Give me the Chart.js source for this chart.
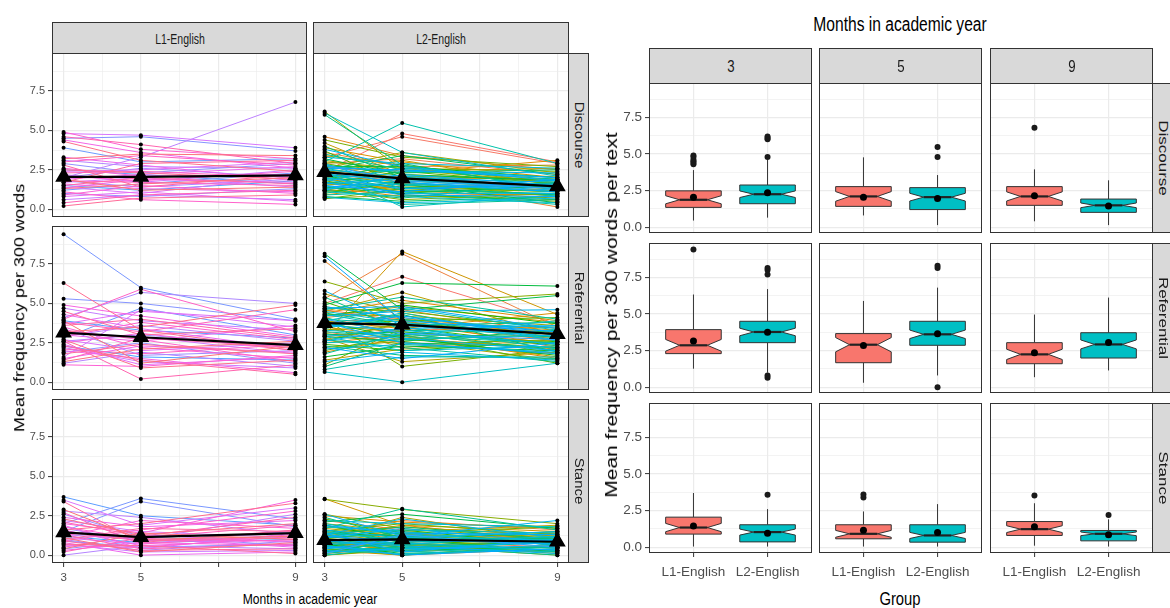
<!DOCTYPE html>
<html>
<head>
<meta charset="utf-8">
<script src="https://cdn.jsdelivr.net/npm/chart.js@4.4.0/dist/chart.umd.min.js"></script>
<style>
  body { margin: 0; background: #fff; width: 1170px; height: 608px; position: relative; overflow: hidden; }
  .panel { position: absolute; }
  .strip { position: absolute; background: #d9d9d9; border: 1px solid #333; box-sizing: border-box; }
  .txt { position: absolute; white-space: nowrap; font-family: "Liberation Sans", Arial, sans-serif; line-height: 1; }
</style>
</head>
<body>
<script>
const months = [3, 5, 9];
const groups = ['L1-English', 'L2-English'];
const categories = ['Discourse', 'Referential', 'Stance'];
const freqTicks = [0, 1.25, 2.5, 3.75, 5, 6.25, 7.5, 8.75];
const monthTicks = [3, 4, 5, 6, 7, 8, 9];
const monthLabels = ['3', '5', '9'];

// learner trajectories, values at months 3, 5, 9
const l1Discourse = [
  [1.5, 1.2, 1.8], [2.5, 2.2, 1.6], [3.9, 3.0, 3.2], [1.2, 1.6, 2.3], [4.5, 4.6, 3.7],
  [2.9, 2.3, 2.9], [1.0, 0.8, 1.3], [2.0, 2.6, 2.0], [1.8, 1.4, 1.9], [3.1, 2.7, 2.6],
  [2.0, 3.3, 6.8], [0.6, 0.9, 0.6], [2.2, 1.7, 2.5], [1.7, 2.0, 1.4], [4.8, 4.7, 3.9],
  [1.4, 1.0, 2.1], [2.4, 2.5, 3.0], [0.8, 1.1, 0.5], [1.9, 2.2, 2.7], [3.3, 2.8, 1.8],
  [1.6, 1.3, 1.1], [4.4, 3.6, 2.6], [1.35, 1.9, 1.7], [2.6, 2.1, 2.2], [0.9, 1.5, 1.0],
  [2.1, 1.8, 2.4], [4.9, 3.8, 3.2], [1.1, 0.6, 0.3], [3.0, 3.4, 2.8], [1.8, 1.7, 1.5],
  [2.3, 2.4, 2.0], [0.4, 0.9, 1.2], [4.6, 4.1, 2.9], [1.5, 2.0, 1.6], [2.8, 1.4, 2.2],
  [1.7, 2.9, 3.1], [0.2, 0.7, 0.9], [2.5, 2.3, 1.9], [4.3, 3.1, 2.4], [1.3, 1.6, 2.0],
  [3.2, 3.5, 3.4], [1.9, 1.2, 1.4]
];
const l1Referential = [
  [2.3, 1.6, 1.4], [3.9, 3.3, 2.8], [2.8, 4.7, 3.0], [9.4, 6.0, 4.0], [5.3, 5.0, 3.9],
  [1.9, 2.5, 1.2], [3.4, 1.7, 2.0], [2.6, 3.0, 2.3], [4.1, 5.7, 5.0], [1.2, 1.9, 1.0],
  [2.9, 3.6, 2.6], [4.7, 3.9, 3.3], [2.2, 1.3, 0.9], [3.1, 2.9, 1.8], [1.6, 4.6, 3.5],
  [2.7, 2.0, 2.5], [3.7, 4.5, 3.9], [2.4, 1.1, 1.6], [4.3, 3.4, 2.1], [1.5, 2.3, 1.9],
  [3.0, 2.6, 3.6], [2.0, 1.5, 0.6], [4.9, 4.2, 2.9], [2.5, 3.1, 2.0], [3.5, 2.2, 1.5],
  [1.1, 1.0, 1.7], [2.9, 3.8, 2.7], [3.3, 2.7, 1.3], [4.0, 5.9, 3.2], [2.1, 1.8, 2.4],
  [3.8, 3.2, 4.6], [1.4, 2.8, 2.2], [2.6, 0.2, 1.1], [3.6, 4.0, 2.8], [2.3, 1.4, 0.5],
  [4.5, 3.0, 3.4], [1.8, 2.4, 1.8], [6.3, 3.3, 2.0], [2.7, 0.9, 1.4], [3.2, 3.5, 4.9],
  [1.3, 2.1, 2.6], [3.9, 1.2, 2.3]
];
const l1Stance = [
  [1.2, 0.8, 1.0], [3.7, 2.5, 1.9], [0.9, 0.5, 0.7], [2.0, 3.6, 2.3], [1.5, 3.4, 1.8],
  [0.4, 0.9, 1.2], [2.6, 1.2, 0.6], [1.0, 0.3, 0.9], [1.7, 0.9, 1.5], [0.0, 0.6, 0.4],
  [2.8, 2.4, 1.3], [1.3, 1.0, 2.6], [0.7, 0.2, 0.3], [2.2, 1.5, 1.1], [1.1, 0.7, 1.6],
  [3.5, 1.9, 3.0], [0.5, 1.3, 0.8], [1.9, 0.4, 1.4], [1.4, 1.1, 0.5], [0.8, 0.0, 0.2],
  [2.4, 1.8, 2.2], [1.6, 0.6, 1.0], [0.3, 0.8, 0.6], [2.0, 1.4, 3.5], [1.2, 2.2, 1.7],
  [0.6, 0.5, 1.2], [1.8, 1.0, 0.9], [0.9, 1.6, 2.8], [2.7, 0.7, 1.3], [1.3, 0.4, 0.7],
  [0.2, 1.1, 1.9], [1.5, 0.9, 1.1], [2.1, 1.2, 2.4], [0.9, 0.3, 0.4], [1.0, 1.7, 1.5],
  [3.4, 0.8, 1.6], [0.7, 0.6, 0.1], [1.6, 2.0, 3.3], [2.3, 1.3, 2.0], [1.1, 0.2, 0.8],
  [0.4, 1.4, 1.0], [2.9, 1.0, 1.2]
];
const l2Discourse = [
  [2.4, 4.8, 3.0], [3.3, 4.6, 2.9], [1.8, 2.1, 1.4], [2.9, 3.2, 2.2], [1.2, 1.0, 0.9],
  [3.6, 2.7, 2.8], [2.2, 1.8, 0.14], [4.6, 3.4, 2.5], [1.6, 1.3, 1.7], [2.7, 2.3, 3.1],
  [0.9, 1.5, 1.2], [3.9, 3.0, 2.0], [2.0, 2.6, 1.6], [1.4, 0.8, 1.0], [2.5, 2.0, 1.9],
  [3.1, 2.4, 2.6], [1.7, 1.2, 0.7], [2.3, 3.1, 1.5], [4.2, 2.2, 1.8], [1.1, 1.6, 1.3],
  [2.8, 1.9, 2.1], [1.9, 1.4, 1.1], [3.4, 2.8, 1.6], [0.7, 0.9, 0.5], [2.6, 3.6, 2.3],
  [1.5, 2.0, 1.4], [6.2, 2.5, 1.7], [2.1, 1.7, 0.8], [3.0, 2.6, 2.4], [1.3, 0.6, 1.0],
  [2.4, 1.9, 1.5], [4.4, 3.3, 2.7], [1.8, 1.1, 1.2], [0.65, 1.3, 0.9], [2.9, 2.1, 1.9],
  [1.6, 2.4, 1.6], [3.7, 1.5, 1.1], [2.2, 0.9, 0.6], [1.0, 1.8, 1.3], [2.7, 2.7, 2.0],
  [1.4, 1.0, 1.5], [3.2, 2.2, 1.8], [2.0, 1.6, 0.4], [0.8, 0.5, 0.8], [2.5, 3.4, 2.2],
  [1.9, 2.9, 1.2], [4.0, 2.0, 1.4], [1.2, 0.7, 1.7], [2.8, 2.3, 2.5], [1.7, 1.4, 0.9],
  [6.0, 2.8, 1.3], [2.3, 1.2, 1.0], [3.5, 2.5, 1.9], [1.5, 0.3, 0.6], [2.6, 1.8, 1.6],
  [0.9, 1.1, 0.3], [3.0, 5.47, 2.9], [2.1, 2.0, 1.7], [1.3, 1.6, 1.1], [2.4, 0.14, 0.9],
  [1.8, 2.6, 2.0], [6.1, 3.6, 2.1], [2.9, 1.3, 1.5], [1.1, 0.8, 0.4], [2.2, 1.5, 1.8],
  [3.3, 2.9, 2.6], [1.6, 1.9, 1.3], [0.75, 0.4, 0.7], [2.5, 2.1, 1.4], [1.9, 1.0, 1.0],
  [2.7, 2.4, 2.3], [1.4, 1.7, 1.2], [3.8, 2.7, 1.8], [2.0, 1.3, 1.6], [1.2, 2.2, 1.5],
  [2.3, 1.7, 1.1], [1.7, 0.9, 0.8], [2.6, 2.5, 2.0], [1.5, 1.1, 1.9], [2.8, 1.8, 1.3]
];
const l2Referential = [
  [5.0, 6.7, 3.7], [3.8, 4.1, 2.6], [2.9, 3.3, 3.5], [4.6, 3.9, 2.2], [3.2, 2.5, 1.8],
  [5.3, 8.15, 3.5], [4.1, 4.6, 3.1], [7.7, 3.9, 2.6], [2.5, 3.0, 1.5], [3.6, 2.2, 2.9],
  [4.4, 5.2, 3.9], [1.9, 2.8, 2.1], [3.9, 3.4, 4.4], [2.7, 3.7, 2.4], [4.8, 4.0, 3.3],
  [3.0, 8.3, 4.3], [3.5, 2.9, 1.6], [4.2, 4.8, 3.8], [1.4, 2.1, 2.7], [3.7, 3.1, 2.0],
  [4.5, 5.7, 3.0], [2.8, 1.3, 1.9], [3.3, 3.6, 3.2], [5.6, 4.4, 2.8], [2.2, 2.6, 1.4],
  [3.9, 3.2, 2.5], [4.3, 4.2, 3.6], [1.1, 3.4, 1.8], [3.4, 2.7, 2.2], [6.4, 5.0, 5.6],
  [2.6, 3.8, 3.0], [4.0, 1.0, 2.1], [3.1, 2.4, 2.7], [4.7, 4.5, 3.4], [2.0, 3.0, 1.2],
  [3.6, 3.9, 4.1], [5.1, 3.5, 2.3], [2.4, 2.0, 2.6], [4.2, 4.9, 3.7], [3.8, 2.8, 1.7],
  [1.6, 2.3, 2.0], [4.9, 6.3, 6.1], [3.0, 3.2, 2.4], [8.15, 4.6, 5.5], [2.9, 2.6, 3.3],
  [4.1, 3.0, 2.9], [3.5, 4.3, 1.9], [0.99, 2.5, 2.2], [4.4, 3.6, 3.8], [2.3, 1.7, 1.5],
  [3.7, 4.0, 2.8], [5.4, 3.3, 3.1], [2.7, 2.2, 1.3], [4.6, 5.4, 4.0], [3.2, 2.9, 2.5],
  [1.8, 3.1, 2.0], [4.0, 3.7, 3.5], [0.8, 1.6, 1.6], [3.4, 4.4, 2.6], [2.5, 2.7, 3.0],
  [4.3, 3.5, 2.1], [0.65, 0.0, 1.2], [3.9, 4.7, 3.3], [2.9, 2.0, 2.3], [4.5, 3.8, 2.7],
  [3.3, 3.0, 3.9], [2.1, 2.4, 1.9], [4.8, 4.1, 3.2], [3.6, 3.3, 2.4], [1.3, 1.9, 1.4],
  [4.2, 4.5, 4.6], [3.0, 2.8, 2.0], [5.8, 3.6, 2.9], [2.6, 3.4, 3.6], [3.8, 2.5, 1.8],
  [4.7, 4.8, 3.4], [2.2, 1.5, 2.5], [3.5, 4.2, 3.0], [8.0, 3.9, 3.2], [4.0, 3.1, 2.7]
];
const l2Stance = [
  [1.0, 0.6, 0.9], [0.4, 1.3, 1.1], [1.5, 0.9, 0.5], [2.2, 1.6, 1.4], [0.8, 0.3, 0.6],
  [1.3, 2.2, 1.6], [0.1, 0.5, 0.2], [1.9, 1.1, 1.0], [0.6, 0.8, 1.3], [1.2, 1.9, 0.9],
  [2.5, 2.1, 1.7], [0.3, 0.0, 0.4], [1.1, 1.4, 0.8], [0.7, 0.4, 1.0], [1.6, 1.0, 0.7],
  [3.58, 1.9, 1.5], [0.5, 0.7, 0.3], [1.4, 1.8, 1.2], [0.9, 0.2, 0.6], [2.0, 1.5, 1.9],
  [0.2, 0.6, 0.0], [1.7, 1.2, 1.1], [1.0, 2.4, 0.9], [0.0, 0.3, 0.5], [1.3, 0.9, 1.4],
  [0.6, 1.1, 0.2], [2.6, 1.7, 1.0], [0.4, 0.0, 0.7], [1.8, 1.3, 1.2], [3.55, 2.9, 2.0],
  [1.1, 0.5, 0.8], [0.3, 0.8, 0.1], [1.5, 2.0, 1.3], [0.8, 0.6, 0.9], [2.3, 1.4, 1.8],
  [0.0, 0.4, 0.3], [1.2, 0.7, 1.0], [0.5, 1.6, 0.6], [1.9, 1.0, 1.5], [0.7, 0.1, 0.4],
  [1.4, 1.2, 0.8], [0.2, 0.9, 1.1], [2.1, 2.6, 1.7], [1.0, 0.3, 0.5], [0.6, 1.0, 0.2],
  [1.6, 0.8, 1.2], [0.3, 0.5, 0.9], [1.3, 1.8, 1.0], [2.4, 1.1, 0.7], [0.8, 0.0, 0.6],
  [1.1, 1.4, 1.3], [0.1, 0.6, 0.0], [1.7, 2.94, 1.6], [0.9, 0.4, 0.8], [1.4, 1.0, 1.1],
  [0.4, 0.7, 0.3], [2.0, 1.3, 0.9], [0.6, 0.2, 0.5], [1.2, 1.6, 1.4], [0.0, 0.5, 0.2],
  [1.5, 0.9, 1.0], [0.8, 1.2, 0.7], [2.2, 2.0, 1.8], [0.3, 0.1, 0.4], [1.0, 0.7, 1.2],
  [1.8, 1.5, 0.6], [0.5, 0.3, 0.9], [1.3, 2.3, 1.1], [0.7, 0.8, 0.3], [1.6, 1.1, 1.5],
  [0.2, 0.4, 0.6], [1.1, 1.7, 0.8], [2.6, 1.2, 2.2], [0.9, 0.6, 0.1], [1.4, 0.2, 1.0],
  [0.4, 1.0, 0.7], [1.9, 1.4, 1.3], [0.6, 0.0, 0.4], [1.2, 0.9, 0.9], [0.1, 1.3, 0.5]
];

// group means at months 3, 5, 9: [L1, L2]
const discourseMeans = [[2.05, 2.05, 2.15], [2.35, 1.95, 1.45]];
const referentialMeans = [[3.15, 2.85, 2.35], [3.75, 3.65, 3.05]];
const stanceMeans = [[1.45, 1.15, 1.4], [0.95, 1.0, 0.85]];

// box summaries [lower whisker, q1, median, q3, upper whisker]; per month: [L1, L2]
const discourseBoxes = [
  [[0.45, 1.35, 1.87, 2.48, 3.9], [0.65, 1.6, 2.25, 2.88, 4.6]],
  [[0.8, 1.42, 2.1, 2.77, 4.77], [0.14, 1.2, 2.05, 2.7, 3.56]],
  [[0.4, 1.49, 2.1, 2.77, 3.95], [0.14, 1.01, 1.49, 1.92, 3.2]]
];
const referentialBoxes = [
  [[1.26, 2.29, 2.86, 3.93, 6.33], [0.99, 3.04, 3.77, 4.5, 6.7]],
  [[0.3, 1.67, 2.9, 3.66, 5.89], [0.8, 2.86, 3.61, 4.5, 6.8]],
  [[0.68, 1.6, 2.24, 3.04, 4.96], [1.14, 1.99, 2.92, 3.72, 6.12]]
];
const stanceBoxes = [
  [[0.04, 0.89, 1.34, 2.05, 3.7], [0.04, 0.36, 1.03, 1.53, 2.6]],
  [[0.04, 0.57, 0.91, 1.53, 2.44], [0.04, 0.34, 0.8, 1.53, 2.94]],
  [[0.1, 0.8, 1.23, 1.75, 3.0], [0.04, 0.43, 0.91, 1.14, 1.9]]
];
const discourseOutliers = [
  [[4.3, 4.4, 4.5, 4.6, 4.8, 4.9], [4.8, 6.0, 6.1, 6.2]],
  [[], [4.8, 5.47]],
  [[6.8], []]
];
const referentialOutliers = [
  [[9.41], [0.65, 0.8, 7.7, 8.0, 8.15]],
  [[], [0.0, 8.15, 8.3]],
  [[], []]
];
const stanceOutliers = [
  [[], [3.58]],
  [[3.4, 3.6], []],
  [[3.53], [2.2]]
];

const trajectories = [[l1Discourse, l2Discourse], [l1Referential, l2Referential], [l1Stance, l2Stance]];
const groupMeans = [discourseMeans, referentialMeans, stanceMeans];
const boxStats = [discourseBoxes, referentialBoxes, stanceBoxes];
const boxOutliers = [discourseOutliers, referentialOutliers, stanceOutliers];
const groupFills = ['#F8766D', '#00BFC4'];

// hcl -> hex, same hue wheel as ggplot's default discrete palette
function hcl(h, c, l) {
  const hr = h * Math.PI / 180;
  const U = c * Math.cos(hr), V = c * Math.sin(hr);
  const Xn = 95.047, Yn = 100, Zn = 108.883;
  const un = 4 * Xn / (Xn + 15 * Yn + 3 * Zn), vn = 9 * Yn / (Xn + 15 * Yn + 3 * Zn);
  const Y = l > 8 ? Yn * Math.pow((l + 16) / 116, 3) : Yn * l / 903.3;
  const u = U / (13 * l) + un, v = V / (13 * l) + vn;
  const X = 9 * Y * u / (4 * v);
  const Z = 3 * Y / v - 5 * Y - X / 3;
  const lin = [
    (3.240479 * X - 1.53715 * Y - 0.498535 * Z) / 100,
    (-0.969256 * X + 1.875992 * Y + 0.041556 * Z) / 100,
    (0.055648 * X - 0.204043 * Y + 1.057311 * Z) / 100
  ];
  return '#' + lin.map(ch => {
    let s = ch <= 0.0031308 ? 12.92 * ch : 1.055 * Math.pow(ch, 1 / 2.4) - 0.055;
    s = Math.round(Math.min(1, Math.max(0, s)) * 255);
    return s.toString(16).padStart(2, '0');
  }).join('');
}

// one colour per learner: L2 ids first, then L1
const nLearners = l1Discourse.length + l2Discourse.length;
const learnerColour = k => hcl(15 + 360 * k / nLearners, 100, 65);
const groupColours = [
  l1Discourse.map((_, i) => learnerColour(l2Discourse.length + i)),
  l2Discourse.map((_, i) => learnerColour(i))
];

const tickFont = '"Liberation Sans", Arial, sans-serif';

const panelBorder = {
  id: 'panelBorder',
  afterDraw(chart) {
    const { ctx, chartArea: a } = chart;
    ctx.save();
    ctx.strokeStyle = '#333';
    ctx.lineWidth = 1;
    ctx.strokeRect(Math.round(a.left) + 0.5, Math.round(a.top) + 0.5,
      Math.round(a.right - a.left) - 1, Math.round(a.bottom - a.top) - 1);
    ctx.restore();
  }
};

function notchBoxes(boxes) {
  return {
    id: 'notchBoxes',
    beforeDatasetsDraw(chart) {
      const { ctx, scales: { x, y } } = chart;
      const py = v => y.getPixelForValue(v);
      boxes.forEach(b => {
        const [lo, q1, med, q3, hi] = b.stats;
        const notch = 1.58 * (q3 - q1) / Math.sqrt(b.n);
        const cx = x.getPixelForValue(b.x);
        const half = x.getPixelForValue(b.x + 0.375) - cx;
        const xl = cx - half, xr = cx + half, inset = half / 2;
        ctx.save();
        ctx.strokeStyle = '#333';
        ctx.lineWidth = 1;
        ctx.beginPath();
        ctx.moveTo(cx, py(hi)); ctx.lineTo(cx, py(q3));
        ctx.moveTo(cx, py(q1)); ctx.lineTo(cx, py(lo));
        ctx.stroke();
        ctx.beginPath();
        ctx.moveTo(xl, py(q3)); ctx.lineTo(xr, py(q3));
        ctx.lineTo(xr, py(med + notch)); ctx.lineTo(xr - inset, py(med));
        ctx.lineTo(xr, py(med - notch)); ctx.lineTo(xr, py(q1));
        ctx.lineTo(xl, py(q1)); ctx.lineTo(xl, py(med - notch));
        ctx.lineTo(xl + inset, py(med)); ctx.lineTo(xl, py(med + notch));
        ctx.closePath();
        ctx.fillStyle = b.fill;
        ctx.fill();
        ctx.stroke();
        ctx.lineWidth = 2.2;
        ctx.strokeStyle = '#222';
        ctx.beginPath();
        ctx.moveTo(xl + inset, py(med)); ctx.lineTo(xr - inset, py(med));
        ctx.stroke();
        ctx.restore();
      });
    }
  };
}

// fixed axis sizes, no label overhang padding, so every plot area sits at known pixels
function pinSize(s, prop, size) {
  s[prop] = size;
  s.paddingTop = s.paddingBottom = s.paddingLeft = s.paddingRight = 0;
}

function scaleOptions(o) {
  return {
    x: {
      type: 'linear', min: o.xMin, max: o.xMax,
      afterBuildTicks: s => { s.ticks = o.xTicks.map(v => ({ value: v })); },
      afterFit: s => pinSize(s, 'height', o.xAxisH),
      border: { display: false },
      grid: {
        color: '#ebebeb',
        lineWidth: c => o.xMajor(c.tick.value) ? 1.2 : 0.6,
        drawTicks: o.xAxisH > 0, tickLength: 4, tickWidth: 1,
        tickColor: c => o.xMajor(c.tick.value) ? '#333' : 'rgba(0,0,0,0)'
      },
      ticks: {
        display: o.xAxisH > 0, padding: o.xPad, color: '#4d4d4d', maxRotation: 0, autoSkip: false,
        font: { family: tickFont, size: o.xFont },
        callback: o.xLabel
      }
    },
    y: {
      type: 'linear', min: o.yMin, max: o.yMax,
      afterBuildTicks: s => { s.ticks = freqTicks.map(v => ({ value: v })); },
      afterFit: s => pinSize(s, 'width', o.yAxisW),
      border: { display: false },
      grid: {
        color: '#ebebeb',
        lineWidth: c => c.tick.value % 2.5 === 0 ? 1.2 : 0.6,
        drawTicks: o.yAxisW > 0, tickLength: 4, tickWidth: 1,
        tickColor: c => c.tick.value % 2.5 === 0 ? '#333' : 'rgba(0,0,0,0)'
      },
      ticks: {
        display: o.yAxisW > 0, padding: 3, color: '#4d4d4d', autoSkip: false,
        font: { family: tickFont, size: o.yFont },
        callback: v => v % 2.5 === 0 ? v.toFixed(1) : ''
      }
    }
  };
}

function addChart(left, top, w, h, config) {
  const holder = document.createElement('div');
  holder.className = 'panel';
  holder.style.left = left + 'px';
  holder.style.top = top + 'px';
  const canvas = document.createElement('canvas');
  canvas.width = w;
  canvas.height = h;
  canvas.style.width = w + 'px';
  canvas.style.height = h + 'px';
  holder.appendChild(canvas);
  document.body.appendChild(holder);
  config.options = Object.assign({
    responsive: false, animation: false, devicePixelRatio: 1, events: [],
    layout: { padding: 0, autoPadding: false },
    plugins: { legend: { display: false }, tooltip: { enabled: false } }
  }, config.options);
  config.plugins = (config.plugins || []).concat([panelBorder]);
  return new Chart(canvas, config);
}

function addText(text, x, y, size, opts = {}) {
  const d = document.createElement('div');
  d.className = 'txt';
  d.textContent = text;
  d.style.left = x + 'px';
  d.style.top = y + 'px';
  d.style.fontSize = size + 'px';
  d.style.color = opts.color || '#000';
  const squeeze = opts.squeeze || 0.78;
  d.style.transform = `translate(-50%, -50%) scaleX(${squeeze}) rotate(${opts.rotate || 0}deg)`;
  document.body.appendChild(d);
}

function addStrip(x, y, w, h) {
  const s = document.createElement('div');
  s.className = 'strip';
  Object.assign(s.style, { left: x + 'px', top: y + 'px', width: w + 'px', height: h + 'px' });
  document.body.appendChild(s);
}

// ---- learner trajectories, faceted by category (rows) and group (columns)
const trajLeft = [52, 313], trajWidth = [255, 256], trajTop = [53, 226, 399], trajHeight = 164;

categories.forEach((cat, r) => {
  groups.forEach((g, c) => {
    const learners = trajectories[r][c];
    const colours = groupColours[c];
    // later learner ids are painted over earlier ones
    const lines = learners.map((vals, i) => ({
      order: 2 + learners.length - i, showLine: true,
      data: vals.map((v, j) => ({ x: months[j], y: v })),
      borderColor: colours[i], borderWidth: 1, pointRadius: 0
    }));
    const dots = {
      order: 1,
      data: learners.flatMap(vals => vals.map((v, j) => ({ x: months[j], y: v }))),
      pointRadius: 2, backgroundColor: '#000', borderWidth: 0
    };
    const meanLine = {
      order: 0, showLine: true,
      data: groupMeans[r][c].map((v, j) => ({ x: months[j], y: v })),
      borderColor: '#000', borderWidth: 2.2,
      pointStyle: 'triangle', pointRadius: 7.5,
      pointBackgroundColor: '#000', pointBorderColor: '#000'
    };
    const yAxisW = c === 0 ? 30 : 0;
    const xAxisH = r === 2 ? 26 : 0;
    addChart(trajLeft[c] - yAxisW, trajTop[r], trajWidth[c] + yAxisW, trajHeight + xAxisH, {
      type: 'scatter',
      data: { datasets: [meanLine, dots].concat(lines) },
      options: {
        scales: scaleOptions({
          xMin: 2.7, xMax: 9.3, xTicks: monthTicks, xMajor: v => v % 2 === 1,
          xLabel: v => monthLabels.includes(String(v)) ? String(v) : '',
          xAxisH, xPad: 4, xFont: 11.5,
          yMin: -0.5, yMax: 9.92, yAxisW, yFont: 11
        })
      }
    });
  });
});

groups.forEach((g, c) => {
  addStrip(trajLeft[c], 22, trajWidth[c], 32);
  addText(g, trajLeft[c] + trajWidth[c] / 2, 38, 15, { color: '#1a1a1a', squeeze: 0.7 });
});
categories.forEach((cat, r) => {
  addStrip(568, trajTop[r], 21, trajHeight);
  addText(cat, 579, trajTop[r] + trajHeight / 2, 15, { color: '#1a1a1a', rotate: 90, squeeze: 0.8 });
});
addText('Months in academic year', 310, 599, 15.5);
addText('Mean frequency per 300 words', 20, 308, 18, { rotate: -90 });

// ---- notched boxplots, faceted by category (rows) and month (columns)
const boxLeft = [649, 819, 990], boxWidth = 163, boxTop = [83, 243, 403], boxHeight = 150;

categories.forEach((cat, r) => {
  months.forEach((m, c) => {
    const boxes = groups.map((g, gi) => ({
      x: gi + 1, stats: boxStats[r][c][gi], n: trajectories[r][gi].length, fill: groupFills[gi]
    }));
    const outliers = {
      data: boxOutliers[r][c].flatMap((vals, gi) => vals.map(v => ({ x: gi + 1, y: v }))),
      pointRadius: 3, backgroundColor: '#1a1a1a', borderWidth: 0
    };
    const means = {
      data: groups.map((g, gi) => ({ x: gi + 1, y: groupMeans[r][gi][c] })),
      pointRadius: 3.5, backgroundColor: '#000', borderWidth: 0
    };
    const yAxisW = c === 0 ? 32 : 0;
    const xAxisH = r === 2 ? 34 : 0;
    addChart(boxLeft[c] - yAxisW, boxTop[r], boxWidth + yAxisW, boxHeight + xAxisH, {
      type: 'scatter',
      data: { datasets: [means, outliers] },
      options: {
        scales: scaleOptions({
          xMin: 0.4, xMax: 2.6, xTicks: [1, 2], xMajor: () => true,
          xLabel: v => groups[v - 1] || '',
          xAxisH, xPad: 7, xFont: 13.5,
          yMin: -0.4, yMax: 9.85, yAxisW, yFont: 13.5
        })
      },
      plugins: [notchBoxes(boxes)]
    });
  });
});

months.forEach((m, c) => {
  addStrip(boxLeft[c], 48, boxWidth, 36);
  addText(String(m), boxLeft[c] + boxWidth / 2, 66, 17, { color: '#1a1a1a' });
});
categories.forEach((cat, r) => {
  addStrip(1152, boxTop[r], 24, boxHeight);
  addText(cat, 1163, boxTop[r] + boxHeight / 2, 17, { color: '#1a1a1a', rotate: 90, squeeze: 0.8 });
});
addText('Months in academic year', 900, 24, 20);
addText('Group', 900, 598, 19);
addText('Mean frequency per 300 words per text', 611, 315, 21, { rotate: -90 });
</script>
</body>
</html>
